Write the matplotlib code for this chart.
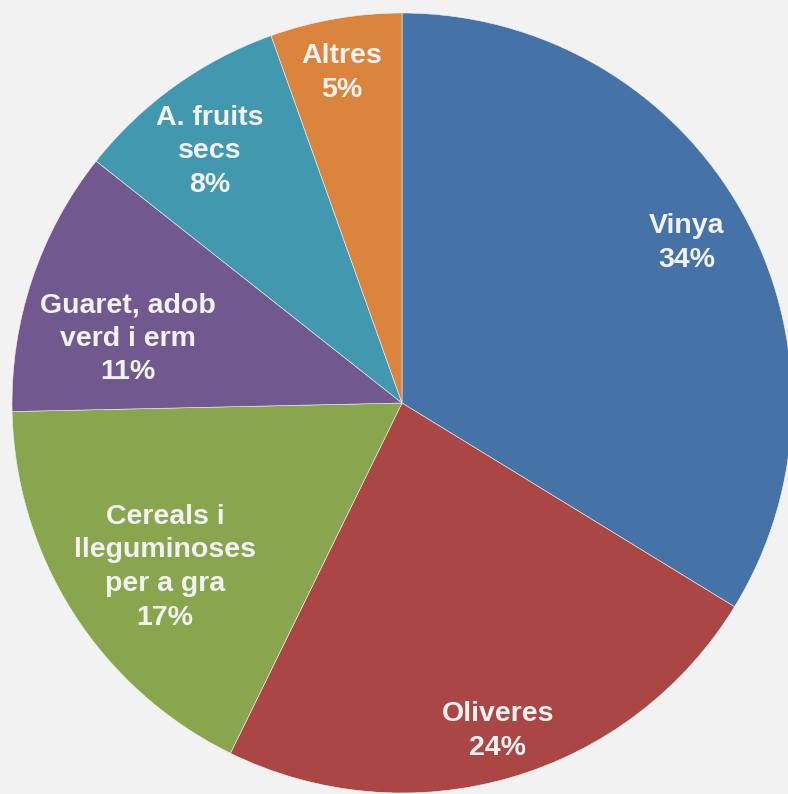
import matplotlib
matplotlib.use("Agg")
import matplotlib.pyplot as plt
import numpy as np

categories = ["Vinya", "Oliveres", "Cereals i\nlleguminoses\nper a gra",
              "Guaret, adob\nverd i erm", "A. fruits\nsecs", "Altres"]
values = [33.75, 23.5, 17.4, 11.0, 8.9, 5.45]
pct_labels = ["34%", "24%", "17%", "11%", "8%", "5%"]

colors = ["#4572A7", "#AA4643", "#89A54E", "#71588F", "#4198AF", "#DB843D"]
# label placement: fraction of radius and angular nudge (deg, counter-clockwise)
label_radius = [0.84, 0.87, 0.735, 0.723, 0.818, 0.867]
label_nudge = [0.5, 0.2, 1.7, 4.8, 1.4, 0.4]

W, H = 788, 794
cx, cy, R = 402, 403, 390

fig = plt.figure(figsize=(W / 100, H / 100), dpi=100, facecolor="#F2F2F2")
ax = fig.add_axes([0, 0, 1, 1])
ax.set_facecolor("#F2F2F2")

wedges, _ = ax.pie(values, colors=colors, startangle=90, counterclock=False,
                   radius=R, center=(0, 0),
                   wedgeprops=dict(edgecolor="#F2F2F2", linewidth=0.4))

for w, cat, pct, rf, nd in zip(wedges, categories, pct_labels, label_radius, label_nudge):
    theta = np.deg2rad((w.theta1 + w.theta2) / 2 + nd)
    x = rf * R * np.cos(theta)
    y = rf * R * np.sin(theta)
    ax.annotate(f"{cat}\n{pct}", xy=(x, y), xytext=(0, -2), textcoords="offset points",
                ha="center", va="center",
                fontsize=20.5, fontweight="bold", color="#F2F2F2",
                family=["Liberation Sans", "DejaVu Sans"], linespacing=1.38)

ax.set_aspect("auto")
ax.set_xlim(-cx, W - cx)
ax.set_ylim(-(H - cy), cy)
ax.axis("off")

fig.savefig("out.png", dpi=100, facecolor=fig.get_facecolor())
